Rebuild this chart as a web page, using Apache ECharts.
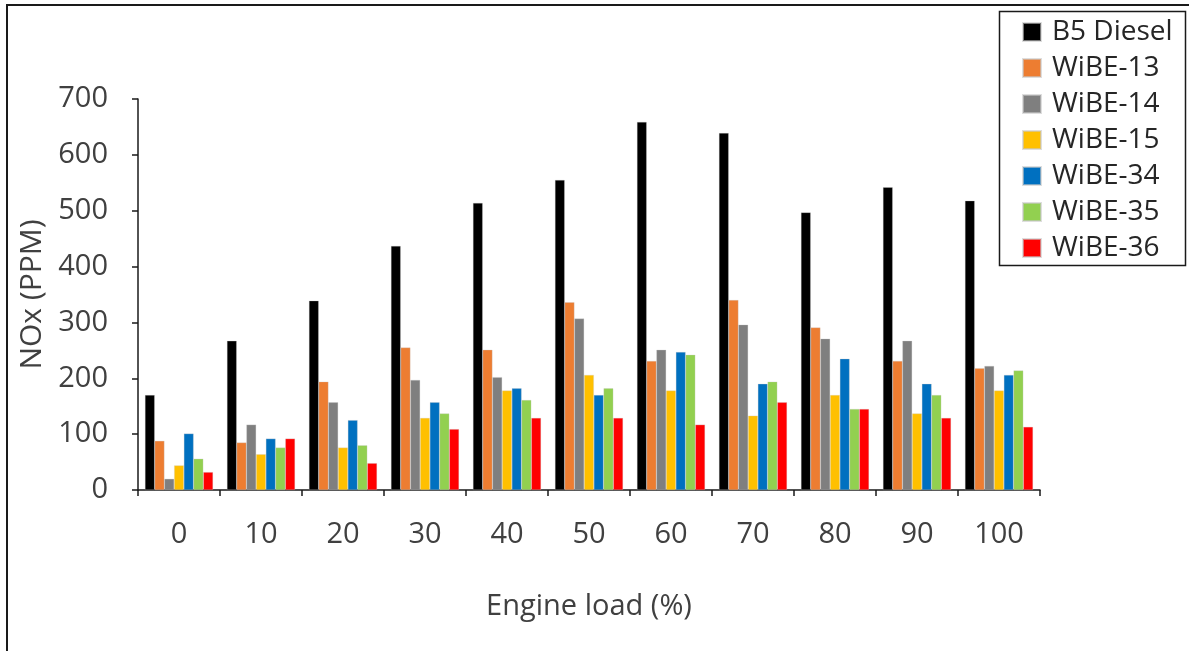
<!DOCTYPE html>
<html>
<head>
<meta charset="utf-8">
<script src="https://cdn.jsdelivr.net/npm/echarts@6/dist/echarts.min.js"></script>
<style>html,body{margin:0;padding:0;background:#fff;}#c{width:1189px;height:651px;}</style>
</head>
<body>
<div id="c"></div>
<script>
const categories = ['0','10','20','30','40','50','60','70','80','90','100'];
const seriesNames = ['B5 Diesel','WiBE-13','WiBE-14','WiBE-15','WiBE-34','WiBE-35','WiBE-36'];
const b5Diesel = [170, 267, 339, 437, 514, 555, 659, 639, 497, 542, 518];
const wibe13  = [88, 85, 194, 255, 251, 336, 231, 340, 291, 231, 218];
const wibe14  = [20, 117, 157, 197, 202, 307, 251, 296, 271, 267, 222];
const wibe15  = [44, 64, 76, 129, 178, 206, 178, 133, 170, 137, 178];
const wibe34  = [101, 92, 125, 157, 182, 170, 247, 190, 235, 190, 206];
const wibe35  = [56, 76, 80, 137, 161, 182, 242, 194, 145, 170, 214];
const wibe36  = [32, 92, 48, 109, 129, 129, 117, 157, 145, 129, 113];
const yTicks = [0, 100, 200, 300, 400, 500, 600, 700];

const values = [b5Diesel, wibe13, wibe14, wibe15, wibe34, wibe35, wibe36];
const colors = ['#000000','#ED7D31','#7F7F7F','#FFC000','#0070C0','#92D050','#FF0000'];
const font = 'Open Sans';

const chart = echarts.init(document.getElementById('c'), null, {renderer:'canvas'});
chart.setOption({
  animation: false,
  backgroundColor: '#fff',
  color: colors,
  grid: {left: 138, right: 149, top: 99, bottom: 161, containLabel: false},
  legend: {
    orient: 'vertical',
    left: 1017, top: 13,
    itemWidth: 18, itemHeight: 18, itemGap: 8,
    icon: 'rect',
    data: seriesNames,
    textStyle: {fontFamily: font, fontSize: 28, color: '#262626', padding: [0,0,0,6]}
  },
  graphic: [
    {type:'rect', shape:{x:7, y:5, width:1300, height:800}, style:{fill:'none', stroke:'#1a1a1a', lineWidth:2}, silent:true, z:-1},
    {type:'rect', shape:{x:999.5, y:11.5, width:186, height:254}, style:{fill:'none', stroke:'#1a1a1a', lineWidth:1.5}, silent:true}
  ],
  xAxis: {
    type: 'category',
    data: categories,
    name: 'Engine load (%)',
    nameLocation: 'middle',
    nameGap: 102,
    nameTextStyle: {fontFamily: font, fontSize: 29, color: '#404040'},
    axisLine: {lineStyle: {color: '#1a1a1a', width: 1.5}},
    axisTick: {show: true, length: 6, inside: false, alignWithLabel: false, lineStyle: {color:'#1a1a1a', width:1.5}},
    axisLabel: {fontFamily: font, fontSize: 29, color: '#404040', margin: 30}
  },
  yAxis: {
    type: 'value',
    min: 0, max: 700, interval: 100,
    name: 'NOx (PPM)',
    nameLocation: 'middle',
    nameGap: 86,
    nameRotate: 90,
    nameTextStyle: {fontFamily: font, fontSize: 30, color: '#404040'},
    axisLine: {show: true, lineStyle: {color: '#1a1a1a', width: 1.5}},
    axisTick: {show: true, length: 6, lineStyle: {color:'#1a1a1a', width:1.5}},
    splitLine: {show: false},
    axisLabel: {fontFamily: font, fontSize: 29, color: '#404040', margin: 30,
      formatter: v => yTicks.includes(v) ? String(v) : ''}
  },
  series: seriesNames.map((n, i) => ({
    name: n,
    type: 'bar',
    data: values[i],
    barGap: '0%',
    barCategoryGap: '17%',
    itemStyle: {color: colors[i], borderColor: 'rgba(200,200,200,0.6)', borderWidth: 0.5}
  }))
});
</script>
</body>
</html>
